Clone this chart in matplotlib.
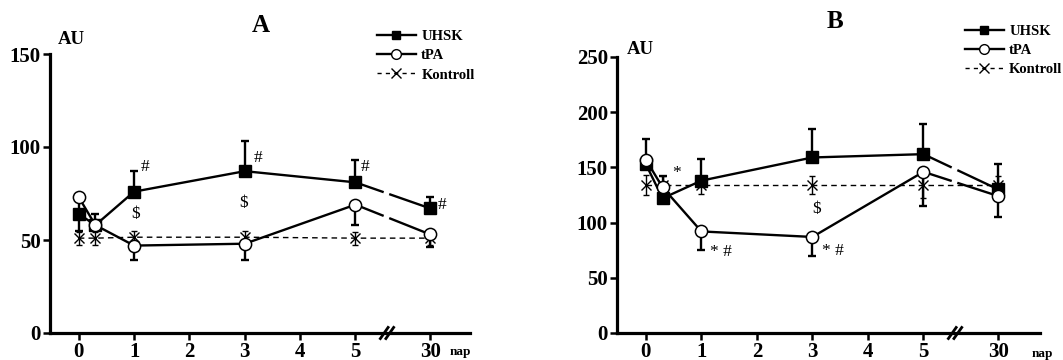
import matplotlib
matplotlib.use('Agg')
import matplotlib.pyplot as plt
from matplotlib.lines import Line2D
import numpy as np

plt.rcParams['font.family'] = ['Liberation Serif', 'DejaVu Serif']

## time points (days); the 30th day sits after an axis break
days = [0, 0.3, 1, 3, 5, 30]
tick_days = [0, 1, 2, 3, 4, 5, 30]
pos_30 = 6.35  # where day 30 is put on the broken axis

## panel A
a_uhsk = [64, 58, 76, 87, 81, 67]
a_uhsk_up = [7, 6, 11, 16, 12, 6]
a_uhsk_lo = [9, 0, 0, 0, 0, 0]
a_tpa = [73, 58, 47, 48, 69, 53]
a_tpa_up = [0, 0, 0, 0, 0, 0]
a_tpa_lo = [0, 0, 8, 9, 11, 7]
a_kontroll = [51, 51, 51.5, 51.5, 51, 51]
a_kontroll_err = [3.5, 3.5, 3.5, 3.5, 3.5, 3.5]
a_notes = [(1.2, 89, '#'), (3.24, 94, '#'), (5.18, 89, '#'), (6.56, 69, '#'),
           (1.02, 64, '$'), (2.98, 70, '$')]

## panel B
b_uhsk = [153, 122, 138, 159, 162, 130]
b_uhsk_up = [0, 20, 20, 26, 27, 23]
b_uhsk_lo = [0, 0, 0, 0, 0, 0]
b_tpa = [157, 132, 92, 87, 146, 124]
b_tpa_up = [19, 0, 0, 0, 0, 0]
b_tpa_lo = [0, 0, 17, 17, 31, 19]
b_kontroll = [134, 134, 134, 134, 134, 134]
b_kontroll_err = [9, 8, 8, 8, 12, 8]
b_notes = [(0.55, 145, '*'), (3.08, 112, '$'), (1.36, 73, '* #'), (3.37, 74, '* #')]

GAP = (5.49, 5.63)   # series lines are cut here
BREAK = (5.52, 5.62)  # the // marks on the x axis


def to_pos(d):
    d = np.asarray(d, dtype=float)
    return np.where(d == 30, pos_30, d)


def broken_line(ax, x, y, **kw):
    # draw the series, leaving a gap where the axis is broken
    x = np.asarray(x); y = np.asarray(y, dtype=float)
    left = x <= 5
    xa = np.append(x[left], GAP[0])
    ya = np.append(y[left], np.interp(GAP[0], x, y))
    xb = np.insert(x[~left], 0, GAP[1])
    yb = np.insert(y[~left], 0, np.interp(GAP[1], x, y))
    ax.plot(xa, ya, clip_on=False, **kw)
    ax.plot(xb, yb, clip_on=False, **kw)


def panel(ax, uhsk, u_up, u_lo, tpa, t_up, t_lo, kon, k_err, ymax, notes, xmax):
    x = to_pos(days)
    # Kontroll: dashed, crosses
    ax.plot(x, kon, color='black', lw=1.0, ls=(0, (4, 3)), zorder=2, clip_on=False)
    ax.errorbar(x, kon, yerr=k_err, fmt='none', ecolor='black', elinewidth=1.0,
                capsize=2.5, capthick=1.0, zorder=2, clip_on=False)
    ax.plot(x, kon, 'x', color='black', ms=7, mew=1.0, zorder=3, clip_on=False)
    # UHSK and tPA
    broken_line(ax, x, uhsk, color='black', lw=1.7, zorder=4)
    broken_line(ax, x, tpa, color='black', lw=1.7, zorder=4)
    ax.errorbar(x, uhsk, yerr=[u_lo, u_up], fmt='none', ecolor='black', elinewidth=1.7,
                capsize=3, capthick=1.7, zorder=4, clip_on=False)
    ax.errorbar(x, tpa, yerr=[t_lo, t_up], fmt='none', ecolor='black', elinewidth=1.7,
                capsize=3, capthick=1.7, zorder=4, clip_on=False)
    ax.plot(x, uhsk, 's', color='black', ms=8, zorder=5, clip_on=False)
    ax.plot(x, tpa, 'o', mfc='white', mec='black', ms=8.8, mew=1.1, zorder=6, clip_on=False)

    for nx, ny, s in notes:
        ax.text(nx, ny, s, fontsize=12.5, ha='center', va='center')

    ax.set_xlim(-0.52, xmax)
    ax.set_ylim(0, ymax)
    ax.set_yticks(np.arange(0, ymax + 1, 50))
    ax.set_xticks(to_pos(tick_days))
    ax.set_xticklabels([str(d) for d in tick_days])
    for lab in ax.get_xticklabels() + ax.get_yticklabels():
        lab.set_fontweight('bold')
        lab.set_fontsize(15)
    ax.tick_params(axis='both', direction='out', length=5, width=1.8, pad=1.5)

    for s in ['top', 'right', 'bottom']:
        ax.spines[s].set_visible(False)
    ax.spines['left'].set_linewidth(2.3)

    # bottom axis drawn by hand, with the // break
    tr = ax.get_xaxis_transform()
    ax.plot([-0.52, xmax], [0, 0], color='black', lw=2.3, transform=tr, clip_on=False)
    for bx in BREAK:
        ax.plot([bx - 0.07, bx + 0.07], [-0.02, 0.02], color='black', lw=2.0,
                transform=tr, clip_on=False)

    handles = [Line2D([], [], color='black', lw=1.7, marker='s', ms=6),
               Line2D([], [], color='black', lw=1.7, marker='o', mfc='white', ms=7),
               Line2D([], [], color='black', lw=1.0, ls=(0, (3, 3)), marker='x', ms=6.5)]
    return handles


fig = plt.figure(figsize=(10.63, 3.6), dpi=100)
ax_a = fig.add_axes([50 / 1063, 27 / 360, 420 / 1063, 279 / 360])
ax_b = fig.add_axes([617 / 1063, 27 / 360, 423 / 1063, 276 / 360])

h = panel(ax_a, a_uhsk, a_uhsk_up, a_uhsk_lo, a_tpa, a_tpa_up, a_tpa_lo,
          a_kontroll, a_kontroll_err, 150, a_notes, 7.07)
panel(ax_b, b_uhsk, b_uhsk_up, b_uhsk_lo, b_tpa, b_tpa_up, b_tpa_lo,
      b_kontroll, b_kontroll_err, 250, b_notes, 7.1)

labels = ['UHSK', 'tPA', 'Kontroll']
for ax, anchor in ((ax_a, (0.778, 1.087)), (ax_b, (0.822, 1.118))):
    ax.legend(h, labels, loc='upper left', bbox_to_anchor=anchor, frameon=False,
              prop={'weight': 'bold', 'size': 10.5}, handlelength=2.7, handletextpad=0.35,
              borderpad=0, borderaxespad=0, labelspacing=0.42)

fig.text(261 / 1063, 1 - 25 / 360, 'A', fontsize=18, fontweight='bold', ha='center', va='center')
fig.text(835 / 1063, 1 - 22 / 360, 'B', fontsize=18, fontweight='bold', ha='center', va='center')
fig.text(71 / 1063, 1 - 40 / 360, 'AU', fontsize=13.5, fontweight='bold', ha='center', va='center')
fig.text(640 / 1063, 1 - 50 / 360, 'AU', fontsize=13.5, fontweight='bold', ha='center', va='center')
fig.text(460 / 1063, 1 - 352 / 360, 'nap', fontsize=9.5, fontweight='bold', ha='center', va='center')
fig.text(1042 / 1063, 1 - 354 / 360, 'nap', fontsize=9.5, fontweight='bold', ha='center', va='center')

fig.savefig('out.png', dpi=100)
